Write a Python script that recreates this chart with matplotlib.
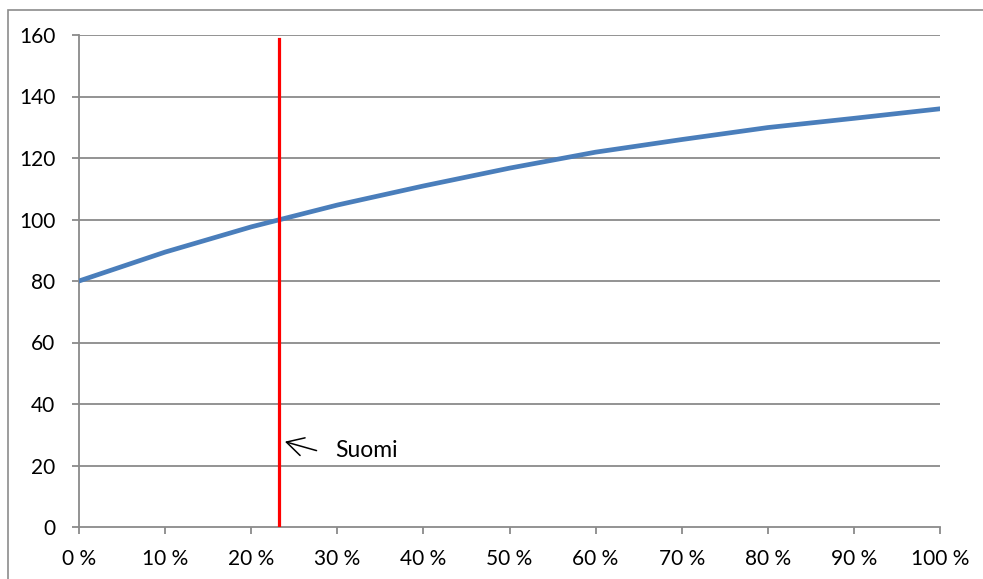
import matplotlib
matplotlib.use("Agg")
from matplotlib import pyplot as plt
from matplotlib.patches import Rectangle

# Values.
share = [0, 10, 20, 30, 40, 50, 60, 70, 80, 90, 100]
values = [80, 89.4, 97.6, 104.7, 110.9, 116.7, 121.9, 126.0, 129.9, 132.9, 136.0]
x_ticks = [0, 10, 20, 30, 40, 50, 60, 70, 80, 90, 100]
x_tick_labels = ["0 %", "10 %", "20 %", "30 %", "40 %", "50 %", "60 %", "70 %", "80 %", "90 %", "100 %"]
y_ticks = [0, 20, 40, 60, 80, 100, 120, 140, 160]
marker_x = 23.2
marker_top = 158.6
label = "Suomi"

plt.rcParams['font.family'] = ['Lato', 'DejaVu Sans']

W, H = 983, 579
fig = plt.figure(figsize=(W / 100, H / 100), dpi=100)

# Outer chart frame (cropped at right and bottom in the reference).
fig.patches.append(Rectangle((8 / W, -0.1), 1.2, 1.1 - 10 / H, transform=fig.transFigure,
                             fill=False, edgecolor='#8c8c8c', linewidth=1.2))

ax = fig.add_axes([79 / W, 1 - 527 / H, (940 - 79) / W, (527 - 35) / H])

grid_color = '#8a8a8a'
for y in y_ticks[1:]:
    ax.axhline(y, color=grid_color, linewidth=1.3, zorder=1)

ax.plot(share, values, color='#4a7ebb', linewidth=3.4, solid_capstyle='round', zorder=3)
ax.plot([marker_x, marker_x], [0, marker_top], color='#ff0000', linewidth=2.3, zorder=4)

ax.annotate("", xy=(23.6, 28.0), xytext=(27.9, 24.6),
            arrowprops=dict(arrowstyle='->,head_length=0.55,head_width=0.3',
                            color='black', lw=1.1, mutation_scale=22))
ax.text(29.8, 24.9, label, fontsize=16.5, va='center', ha='left', color='black')

ax.set_xlim(0, 100)
ax.set_ylim(0, 160)
ax.set_xticks(x_ticks)
ax.set_xticklabels(x_tick_labels)
ax.set_yticks(y_ticks)

for side in ['top', 'right']:
    ax.spines[side].set_visible(False)
for side in ['left', 'bottom']:
    ax.spines[side].set_color(grid_color)
    ax.spines[side].set_linewidth(1.3)

ax.tick_params(axis='both', direction='out', length=5, width=1.3, color=grid_color,
               labelsize=15, labelcolor='black')
ax.tick_params(axis='x', pad=11)
ax.tick_params(axis='y', pad=12)

fig.savefig('out.png', dpi=100)
